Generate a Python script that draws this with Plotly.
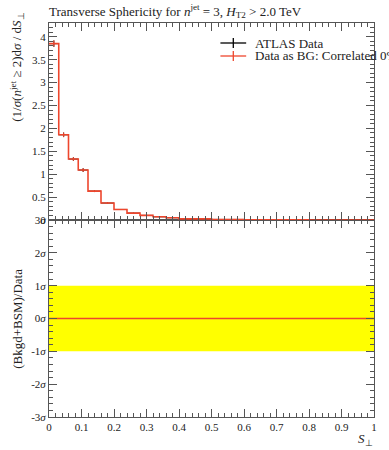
import plotly.graph_objects as go

# ---- data ----
bin_edges = [0.0, 0.03, 0.06, 0.09, 0.12, 0.16, 0.20, 0.24, 0.28, 0.32, 0.36, 0.40, 0.50, 0.60, 0.70, 0.80, 1.0]
data_vals = [3.85, 1.86, 1.33, 1.09, 0.63, 0.37, 0.23, 0.15, 0.10, 0.07, 0.05, 0.025, 0.012, 0.006, 0.003, 0.001]
data_errs = [0.07, 0.05, 0.04, 0.04, 0.02, 0.015, 0.01, 0.008, 0.006, 0.005, 0.004, 0.003, 0.002, 0.001, 0.001, 0.001]
bg_vals = list(data_vals)
sigma_ticks = [-3, -2, -1, 0, 1, 2, 3]
sigma_labels = ["-3<i>σ</i>", "-2<i>σ</i>", "-1<i>σ</i>", "0<i>σ</i>", "1<i>σ</i>", "2<i>σ</i>", "3<i>σ</i>"]
x_ticks = [0, 0.1, 0.2, 0.3, 0.4, 0.5, 0.6, 0.7, 0.8, 0.9, 1]
x_tick_labels = ["0", "0.1", "0.2", "0.3", "0.4", "0.5", "0.6", "0.7", "0.8", "0.9", "1"]
y_ticks = [0, 0.5, 1, 1.5, 2, 2.5, 3, 3.5, 4]
legend_names = ["ATLAS Data", "Data as BG: Correlated 0%"]

FONT = "Liberation Serif"
RED = "rgb(238,70,45)"
AX = "#555555"

centers = [(a + b) / 2 for a, b in zip(bin_edges[:-1], bin_edges[1:])]
halfw = [(b - a) / 2 for a, b in zip(bin_edges[:-1], bin_edges[1:])]

fig = go.Figure()

# yellow band and zero line in ratio panel
fig.add_trace(go.Scatter(x=[0, 1, 1, 0, 0], y=[-1, -1, 1, 1, -1], fill="toself",
                         fillcolor="yellow", line=dict(width=0), mode="lines",
                         xaxis="x", yaxis="y", showlegend=False, hoverinfo="skip"))
fig.add_trace(go.Scatter(x=[0, 1], y=[0, 0], mode="lines", line=dict(color=RED, width=1.5),
                         xaxis="x", yaxis="y", showlegend=False))

# data points
fig.add_trace(go.Scatter(x=centers, y=data_vals, mode="markers",
                         marker=dict(size=1, color="black"),
                         error_y=dict(type="data", array=data_errs, color="black", thickness=1, width=0),
                         error_x=dict(type="data", array=halfw, color="black", thickness=1, width=0),
                         xaxis="x2", yaxis="y2", showlegend=False))

# red step histogram
step_x = list(bin_edges)
step_y = bg_vals + [bg_vals[-1]]
fig.add_trace(go.Scatter(x=step_x, y=step_y, mode="lines", line=dict(color=RED, width=1.6, shape="hv"),
                         xaxis="x2", yaxis="y2", showlegend=False))
fig.add_trace(go.Scatter(x=centers, y=bg_vals, mode="markers",
                         marker=dict(size=1, color=RED),
                         error_y=dict(type="data", array=data_errs, color=RED, thickness=1, width=0),
                         xaxis="x2", yaxis="y2", showlegend=False))

common_axis = dict(showline=True, linecolor=AX, linewidth=1, mirror="allticks", ticks="inside",
                   ticklen=8, tickcolor=AX, tickwidth=1, showgrid=False, zeroline=False,
                   tickfont=dict(family=FONT, size=11, color="#222"))

fig.update_layout(
    width=389, height=450,
    margin=dict(l=49, r=12, t=23, b=33),
    paper_bgcolor="white", plot_bgcolor="white",
    font=dict(family=FONT, size=12, color="#222"),
    title=dict(text="Transverse Sphericity for <i>n</i><sup>jet</sup> = 3, <i>H</i><sub>T2</sub> > 2.0 TeV",
               x=49 / 389, xanchor="left", y=1 - 11 / 450, yanchor="middle",
               font=dict(family=FONT, size=13, color="#222")),
    xaxis=dict(domain=[0, 1], range=[0, 1], anchor="y", tickvals=x_ticks, ticktext=x_tick_labels,
               minor=dict(dtick=0.02, ticks="inside", ticklen=4, tickcolor=AX), **common_axis),
    xaxis2=dict(domain=[0, 1], range=[0, 1], anchor="y2", matches="x", showticklabels=False,
                tickvals=x_ticks,
                minor=dict(dtick=0.02, ticks="inside", ticklen=4, tickcolor=AX), **common_axis),
    yaxis=dict(domain=[0, 0.5], range=[-3, 3], tickvals=sigma_ticks, ticktext=sigma_labels,
               anchor="x", minor=dict(dtick=0.2, ticks="inside", ticklen=4, tickcolor=AX), **common_axis),
    yaxis2=dict(domain=[0.5, 1], range=[0, 4.3], tickvals=y_ticks, anchor="x2",
                minor=dict(dtick=0.1, ticks="inside", ticklen=4, tickcolor=AX), **common_axis),
    showlegend=False,
)

# manual legend (paper coords)
def px_x(p):
    return (p - 49) / 328

def px_y(p):
    return (417 - p) / 394

for name, color, py in zip(legend_names, ["black", RED], [43, 56]):
    fig.add_shape(type="line", xref="paper", yref="paper", x0=px_x(222), x1=px_x(248),
                  y0=px_y(py), y1=px_y(py), line=dict(color=color, width=1.3))
    fig.add_shape(type="line", xref="paper", yref="paper", x0=px_x(235), x1=px_x(235),
                  y0=px_y(py - 5), y1=px_y(py + 5), line=dict(color=color, width=1.3))
    fig.add_annotation(text=name, xref="paper", yref="paper", x=px_x(255), y=px_y(py),
                       xanchor="left", yanchor="middle", showarrow=False,
                       font=dict(family=FONT, size=13, color="#222"))

fig.add_annotation(text="(1/<i>σ</i>(<i>n</i><sup>jet</sup> ≥ 2)d<i>σ</i> / d<i>S</i><sub>⊥</sub>",
                   xref="paper", yref="paper", x=px_x(17), y=1 + 12 / 394, xanchor="center", yanchor="top",
                   textangle=-90, showarrow=False, font=dict(family=FONT, size=13, color="#222"))
fig.add_annotation(text="(Bkgd+BSM)/Data",
                   xref="paper", yref="paper", x=px_x(17), y=0.25, xanchor="center", yanchor="middle",
                   textangle=-90, showarrow=False, font=dict(family=FONT, size=13, color="#222"))
fig.add_annotation(text="<i>S</i><sub>⊥</sub>", xref="paper", yref="paper", x=px_x(368), y=px_y(439),
                   xanchor="center", yanchor="middle", showarrow=False,
                   font=dict(family=FONT, size=13, color="#222"))

fig.write_html("out.html", config={"displayModeBar": False},
               post_script="document.body.style.margin='0';document.body.style.overflow='hidden';")
